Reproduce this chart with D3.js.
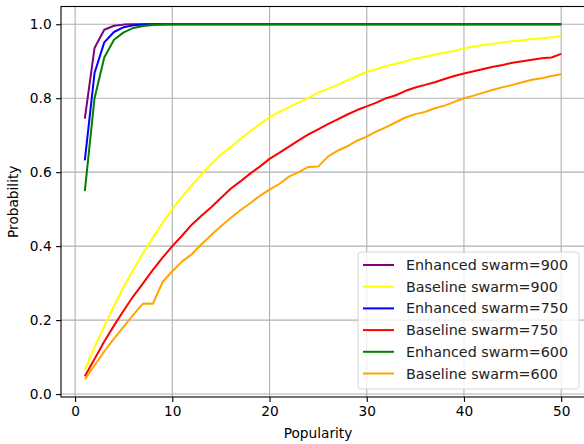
<!DOCTYPE html>
<html>
<head>
<meta charset="utf-8">
<script src="https://cdn.jsdelivr.net/npm/d3@7"></script>
<style>
  body { margin: 0; background: #fff; }
  svg { display: block; font-family: "DejaVu Sans", sans-serif; }
</style>
</head>
<body>
<div id="chart"></div>
<script>
// values
const popularity = d3.range(1, 51);

const enhanced900 = [0.745, 0.936, 0.985, 0.996, 0.999].concat(d3.range(45).map(() => 1));
const baseline900 = [0.065, 0.127, 0.183, 0.238, 0.290, 0.337, 0.381, 0.423, 0.463, 0.500,
    0.533, 0.564, 0.594, 0.622, 0.648, 0.667, 0.690, 0.710, 0.730, 0.749,
    0.763, 0.776, 0.788, 0.801, 0.815, 0.826, 0.836, 0.848, 0.860, 0.871,
    0.879, 0.887, 0.893, 0.900, 0.907, 0.912, 0.918, 0.923, 0.928, 0.935,
    0.940, 0.944, 0.947, 0.951, 0.954, 0.957, 0.960, 0.962, 0.965, 0.968];
const enhanced750 = [0.632, 0.868, 0.951, 0.979, 0.992, 0.997, 0.999].concat(d3.range(43).map(() => 1));
const baseline750 = [0.048, 0.095, 0.142, 0.185, 0.226, 0.265, 0.300, 0.336, 0.369, 0.400,
    0.428, 0.458, 0.482, 0.505, 0.530, 0.555, 0.575, 0.596, 0.615, 0.636,
    0.652, 0.669, 0.686, 0.702, 0.716, 0.730, 0.743, 0.756, 0.768, 0.778,
    0.788, 0.800, 0.808, 0.820, 0.829, 0.836, 0.843, 0.852, 0.860, 0.867,
    0.873, 0.879, 0.885, 0.890, 0.896, 0.900, 0.904, 0.908, 0.910, 0.920];
const enhanced600 = [0.549, 0.800, 0.910, 0.958, 0.978, 0.990, 0.995, 0.998, 0.999].concat(d3.range(41).map(() => 1));
const baseline600 = [0.040, 0.078, 0.115, 0.150, 0.182, 0.215, 0.245, 0.244, 0.303, 0.332,
    0.358, 0.378, 0.405, 0.430, 0.454, 0.476, 0.497, 0.516, 0.536, 0.553,
    0.568, 0.588, 0.600, 0.614, 0.615, 0.642, 0.658, 0.670, 0.685, 0.696,
    0.710, 0.722, 0.735, 0.748, 0.757, 0.763, 0.773, 0.780, 0.790, 0.800,
    0.807, 0.815, 0.823, 0.830, 0.836, 0.843, 0.850, 0.854, 0.860, 0.865];

const seriesNames = ["Enhanced swarm=900", "Baseline swarm=900", "Enhanced swarm=750",
    "Baseline swarm=750", "Enhanced swarm=600", "Baseline swarm=600"];
const seriesValues = [enhanced900, baseline900, enhanced750, baseline750, enhanced600, baseline600];
const seriesColors = ["purple", "yellow", "blue", "red", "green", "orange"];

const xTicks = [0, 10, 20, 30, 40, 50];
const yTicks = [0.0, 0.2, 0.4, 0.6, 0.8, 1.0];

//layout
const width = 584;
const height = 444;
const plotLeft = 61, plotRight = 585, plotTop = 6.5, plotBottom = 397;

const x = d3.scaleLinear().domain([-1.45, 52.45]).range([plotLeft, plotRight]);
const y = d3.scaleLinear().domain([-0.008, 1.048]).range([plotBottom, plotTop]);

const svg = d3.select("#chart")
    .append("svg")
    .attr("width", width)
    .attr("height", height);

// grid
svg.append("g")
    .selectAll("line")
    .data(xTicks)
    .enter()
    .append("line")
    .attr("x1", d => x(d)).attr("x2", d => x(d))
    .attr("y1", plotTop).attr("y2", plotBottom)
    .style("stroke", "#b0b0b0")
    .style("stroke-width", 1.1);

svg.append("g")
    .selectAll("line")
    .data(yTicks)
    .enter()
    .append("line")
    .attr("x1", plotLeft).attr("x2", plotRight)
    .attr("y1", d => y(d)).attr("y2", d => y(d))
    .style("stroke", "#b0b0b0")
    .style("stroke-width", 1.1);

// lines
const line = d3.line()
    .x((d, i) => x(popularity[i]))
    .y(d => y(d));

svg.append("g")
    .selectAll("path")
    .data(seriesValues)
    .enter()
    .append("path")
    .attr("d", line)
    .style("fill", "none")
    .style("stroke", (d, i) => seriesColors[i])
    .style("stroke-width", 2)
    .style("stroke-linejoin", "round");

// axes
const xAxis = d3.axisBottom(x).tickValues(xTicks).tickSize(4.9).tickPadding(4.5).tickFormat(d3.format("d"));
const yAxis = d3.axisLeft(y).tickValues(yTicks).tickSize(4.9).tickPadding(4.5).tickFormat(d3.format(".1f"));

svg.append("g")
    .attr("transform", `translate(0,${plotBottom})`)
    .call(xAxis)
    .call(g => g.select(".domain").remove());

svg.append("g")
    .attr("transform", `translate(${plotLeft},0)`)
    .call(yAxis)
    .call(g => g.select(".domain").remove());

svg.selectAll(".tick text")
    .style("font-size", "13.7px")
    .style("fill", "#000")
    .style("font-family", "DejaVu Sans");
svg.selectAll(".tick line").style("stroke", "#000").style("stroke-width", 1.1);

// frame
svg.append("rect")
    .attr("x", plotLeft).attr("y", plotTop)
    .attr("width", plotRight - plotLeft).attr("height", plotBottom - plotTop)
    .style("fill", "none")
    .style("stroke", "#000")
    .style("stroke-width", 1.1);

// axis labels
svg.append("text")
    .attr("x", (plotLeft + plotRight) / 2 - 5)
    .attr("y", 438)
    .attr("text-anchor", "middle")
    .style("font-size", "13.7px")
    .text("Popularity");

svg.append("text")
    .attr("transform", `translate(18,${(plotTop + plotBottom) / 2}) rotate(-90)`)
    .attr("text-anchor", "middle")
    .style("font-size", "13.7px")
    .text("Probability");

// legend
const legend = svg.append("g").attr("transform", "translate(358,252)");

legend.append("rect")
    .attr("width", 221)
    .attr("height", 137)
    .attr("rx", 3)
    .style("fill", "rgba(255,255,255,0.8)")
    .style("stroke", "#d6d6d6")
    .style("stroke-width", 1);

const items = legend.selectAll("g.item")
    .data(seriesNames)
    .enter()
    .append("g")
    .attr("class", "item")
    .attr("transform", (d, i) => `translate(0,${13 + i * 21.7})`);

items.append("line")
    .attr("x1", 5).attr("x2", 36)
    .style("stroke", (d, i) => seriesColors[i])
    .style("stroke-width", 2);

items.append("text")
    .attr("x", 48)
    .attr("y", 5)
    .style("font-size", "14.3px")
    .style("fill", "#222")
    .text(d => d);
</script>
</body>
</html>
